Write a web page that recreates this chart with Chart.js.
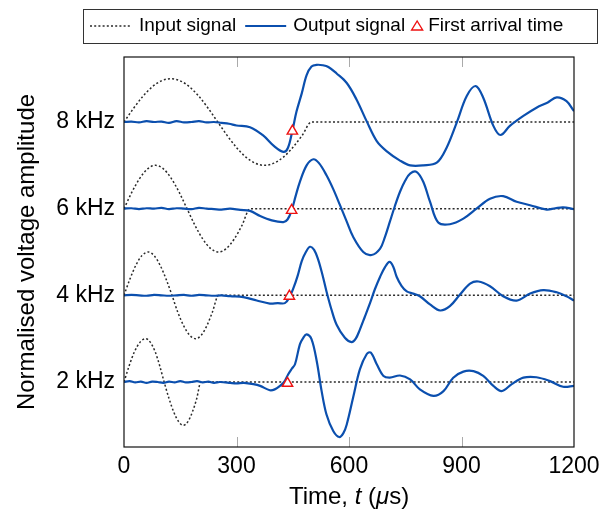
<!DOCTYPE html>
<html>
<head>
<meta charset="utf-8">
<script src="https://cdn.jsdelivr.net/npm/chart.js@4.4.1/dist/chart.umd.min.js"></script>
<style>
  html, body { margin: 0; padding: 0; background: #fff; }
  canvas { display: block; }
</style>
</head>
<body>
<canvas id="chart" width="609" height="518"></canvas>
<script>
// channel offsets on the y axis and their labels
const channels = [8, 6, 4, 2];
const channelLabels = ['8 kHz', '6 kHz', '4 kHz', '2 kHz'];
const xTicks = [0, 300, 600, 900, 1200];

// input bursts (µs, normalised amplitude)
const inTime8 = [0, 25, 50, 75, 100, 125, 150, 175, 200, 225, 250, 275, 300, 325, 350, 375, 400, 425, 450, 475, 500, 1200];
const inAmp8 = [0, 0.31, 0.59, 0.81, 0.95, 1.0, 0.95, 0.81, 0.59, 0.31, 0, -0.31, -0.59, -0.81, -0.95, -1.0, -0.95, -0.81, -0.59, -0.31, 0, 0];
const inTime6 = [0, 21, 42, 63, 84, 105, 126, 147, 168, 189, 210, 231, 252, 273, 294, 315, 336, 1200];
const inAmp6 = [0, 0.38, 0.7, 0.92, 1.0, 0.92, 0.7, 0.38, 0, -0.38, -0.7, -0.92, -1.0, -0.92, -0.7, -0.38, 0, 0];
const inTime4 = [0, 16, 32, 48, 65, 80, 96, 112, 128, 143, 159, 175, 191, 206, 221, 236, 252, 1200];
const inAmp4 = [0, 0.38, 0.7, 0.92, 1.0, 0.92, 0.7, 0.38, 0, -0.38, -0.7, -0.92, -1.0, -0.92, -0.7, -0.38, 0, 0];
const inTime2 = [0, 14, 28, 43, 58, 70, 83, 95, 107, 120, 133, 146, 158, 170, 182, 194, 205, 1200];
const inAmp2 = [0, 0.38, 0.7, 0.92, 1.0, 0.92, 0.7, 0.38, 0, -0.38, -0.7, -0.92, -1.0, -0.92, -0.7, -0.38, 0, 0];

// measured output signals
const outTime8 = [0,20,40,60,80,100,120,140,160,180,200,220,240,260,280,300,336,371,398,425,437,449,460,474,487,500,514,530,545,567,594,620,647,674,700,736,763,798,834,860,887,914,938,958,985,1004,1029,1065,1100,1130,1154,1180,1200];
const outAmp8 = [0,0.01,-0.01,0.02,0,0.01,-0.02,0.02,-0.01,0,0.02,-0.01,0,-0.02,-0.04,-0.08,-0.12,-0.31,-0.54,-0.69,-0.6,-0.2,0.24,0.66,1.08,1.28,1.32,1.31,1.27,1.12,0.9,0.52,0.02,-0.44,-0.67,-0.89,-1.0,-1.0,-0.94,-0.6,-0.02,0.6,0.83,0.56,-0.09,-0.3,-0.09,0.14,0.33,0.45,0.57,0.48,0.25];
const outTime6 = [0,20,40,60,80,100,120,140,160,180,200,220,240,260,283,310,336,363,394,425,436,447,458,469,487,505,520,540,558,576,594,611,638,660,683,696,709,722,736,750,763,780,798,816,838,869,905,940,976,1011,1047,1083,1127,1150,1171,1200];
const outAmp6 = [0,0.01,-0.01,0.01,0,0.02,-0.01,0.01,0,-0.01,0.02,0,-0.01,-0.02,0,-0.03,-0.05,-0.17,-0.27,-0.31,-0.25,-0.04,0.3,0.62,1.0,1.14,1.05,0.77,0.45,0.08,-0.3,-0.65,-1.0,-1.07,-0.92,-0.65,-0.3,0.05,0.39,0.65,0.81,0.85,0.62,0.16,-0.32,-0.36,-0.23,0,0.23,0.29,0.16,0.08,-0.02,0.01,0.03,-0.01];
const outTime4 = [0,20,40,60,80,100,120,140,160,180,200,220,240,260,283,318,354,389,410,429,441,452,463,474,485,496,507,518,529,540,553,567,589,607,618,629,642,656,669,683,696,708,718,727,740,754,771,789,816,843,869,896,923,945,976,1011,1047,1083,1118,1154,1180,1200];
const outAmp4 = [0,0.01,0,-0.01,0.01,0,-0.01,0,0.01,-0.01,0.01,0,-0.01,0,-0.02,-0.04,-0.12,-0.19,-0.18,-0.18,-0.05,0.17,0.45,0.79,1.0,1.12,1.05,0.82,0.48,0.09,-0.32,-0.68,-0.98,-1.08,-1.0,-0.79,-0.5,-0.18,0.14,0.43,0.65,0.77,0.66,0.43,0.22,0.09,0.04,-0.02,-0.21,-0.35,-0.25,0.02,0.27,0.32,0.21,-0.02,-0.12,0.04,0.12,0.07,-0.02,-0.12];
const outTime2 = [0,15,30,45,60,75,90,105,120,135,150,165,180,195,210,225,240,255,270,283,300,320,345,363,389,402,416,427,438,447,456,469,478,487,500,514,527,540,558,574,585,594,611,629,647,658,674,692,709,736,763,789,825,852,878,905,932,958,985,1007,1034,1065,1100,1136,1171,1200];
const outAmp2 = [0,0.02,-0.01,0.01,-0.02,0.01,0,-0.02,0.01,-0.01,0.02,-0.01,0,0.02,-0.01,0.01,-0.02,0,-0.01,-0.02,-0.03,-0.02,-0.05,-0.09,-0.19,-0.17,-0.09,0,0.18,0.3,0.41,0.87,1.02,1.1,0.99,0.48,-0.21,-0.75,-1.13,-1.27,-1.18,-0.98,-0.36,0.29,0.64,0.68,0.41,0.14,0.1,0.15,0.06,-0.17,-0.32,-0.21,0.1,0.24,0.25,0.14,-0.09,-0.21,-0.05,0.1,0.11,0.02,-0.11,-0.09];

// first arrival picks, order 8, 6, 4, 2 kHz
const arrivalTime = [449, 447, 441, 436];
const arrivalAmp = [-0.21, -0.04, -0.02, -0.03];

const FONT = "'Liberation Sans', Arial, sans-serif";
const BLUE = '#0b4fae';
const RED = '#ee1111';
const DOT = '#2a2a2a';

function toPoints(times, amps, offset) {
  return times.map((t, i) => ({ x: t, y: amps[i] + offset }));
}

const inputs = [[inTime8, inAmp8], [inTime6, inAmp6], [inTime4, inAmp4], [inTime2, inAmp2]];
const outputs = [[outTime8, outAmp8], [outTime6, outAmp6], [outTime4, outAmp4], [outTime2, outAmp2]];

const datasets = [];
datasets.push({
  label: 'First arrival time',
  data: arrivalTime.map((t, i) => ({ x: t, y: arrivalAmp[i] + channels[i] })),
  showLine: false,
  pointStyle: 'triangle',
  pointRadius: 6,
  pointBorderWidth: 1.4,
  pointBorderColor: RED,
  pointBackgroundColor: '#fff',
  order: 0
});
outputs.forEach(([t, a], i) => {
  datasets.push({
    label: 'Output signal',
    data: toPoints(t, a, channels[i]),
    borderColor: BLUE,
    borderWidth: 2.2,
    pointRadius: 0,
    tension: 0.35,
    order: 1
  });
});
inputs.forEach(([t, a], i) => {
  datasets.push({
    label: 'Input signal',
    data: toPoints(t, a, channels[i]),
    borderColor: DOT,
    borderWidth: 1.5,
    borderDash: [2, 2.2],
    pointRadius: 0,
    cubicInterpolationMode: 'monotone',
    order: 2
  });
});

const framePlugin = {
  id: 'frame',
  afterDraw(chart) {
    const { ctx, chartArea: a, scales: { x } } = chart;
    ctx.save();
    // inward ticks, top and bottom
    ctx.strokeStyle = '#aaa';
    ctx.lineWidth = 1;
    xTicks.slice(1, -1).forEach(v => {
      const px = Math.round(x.getPixelForValue(v)) + 0.5;
      ctx.beginPath();
      ctx.moveTo(px, a.bottom); ctx.lineTo(px, a.bottom - 10);
      ctx.moveTo(px, a.top); ctx.lineTo(px, a.top + 10);
      ctx.stroke();
    });
    ctx.strokeStyle = '#111';
    ctx.lineWidth = 1.2;
    ctx.strokeRect(a.left, a.top, a.right - a.left, a.bottom - a.top);

    // x title with italic t and mu
    const parts = [['Time, ', ''], ['t', 'italic '], [' (', ''], ['\u03bc', 'italic '], ['s)', '']];
    ctx.fillStyle = '#000';
    ctx.textBaseline = 'middle';
    ctx.textAlign = 'left';
    let w = 0;
    parts.forEach(p => { ctx.font = p[1] + '24px ' + FONT; w += ctx.measureText(p[0]).width; });
    let cx = (a.left + a.right) / 2 - w / 2;
    parts.forEach(p => {
      ctx.font = p[1] + '24px ' + FONT;
      ctx.fillText(p[0], cx, 497);
      cx += ctx.measureText(p[0]).width;
    });

    // legend
    const ly = 26;
    ctx.font = '19px ' + FONT;
    let lx = 90;
    ctx.lineWidth = 1.5;
    ctx.strokeStyle = DOT;
    ctx.setLineDash([2, 2.2]);
    ctx.beginPath(); ctx.moveTo(lx, ly); ctx.lineTo(lx + 42, ly); ctx.stroke();
    ctx.setLineDash([]);
    lx += 49;
    ctx.fillText('Input signal', lx, ly);
    lx += ctx.measureText('Input signal').width + 9;
    ctx.strokeStyle = BLUE;
    ctx.lineWidth = 2.2;
    ctx.beginPath(); ctx.moveTo(lx, ly); ctx.lineTo(lx + 41, ly); ctx.stroke();
    lx += 48;
    ctx.fillText('Output signal', lx, ly);
    lx += ctx.measureText('Output signal').width + 12;
    ctx.strokeStyle = RED;
    ctx.lineWidth = 1.4;
    ctx.beginPath();
    ctx.moveTo(lx, ly - 5); ctx.lineTo(lx + 5.5, ly + 4); ctx.lineTo(lx - 5.5, ly + 4); ctx.closePath();
    ctx.stroke();
    lx += 11;
    ctx.fillText('First arrival time', lx, ly);
    lx += ctx.measureText('First arrival time').width + 12;
    ctx.strokeStyle = '#333';
    ctx.lineWidth = 1;
    ctx.strokeRect(83.5, 9.5, Math.max(514, lx - 83), 34);
    ctx.restore();
  }
};

new Chart(document.getElementById('chart'), {
  type: 'line',
  data: { datasets },
  plugins: [framePlugin],
  options: {
    responsive: false,
    animation: false,
    devicePixelRatio: 1,
    layout: { padding: { top: 57, right: 35, left: 0, bottom: 0 } },
    plugins: { legend: { display: false }, tooltip: { enabled: false } },
    scales: {
      x: {
        type: 'linear',
        min: 0,
        max: 1200,
        afterBuildTicks: s => { s.ticks = xTicks.map(v => ({ value: v })); },
        afterFit: s => { s.height = 71; },
        grid: { display: false, drawTicks: false },
        border: { display: false },
        ticks: {
          color: '#000',
          padding: 6,
          maxRotation: 0,
          autoSkip: false,
          font: { family: FONT, size: 23 },
          callback: v => String(v)
        }
      },
      y: {
        type: 'linear',
        min: 0.5,
        max: 9.5,
        afterBuildTicks: s => { s.ticks = channels.map(v => ({ value: v })); },
        afterFit: s => { s.width = 124; },
        grid: { display: false, drawTicks: false },
        border: { display: false },
        ticks: {
          color: '#000',
          padding: 9,
          autoSkip: false,
          font: { family: FONT, size: 23 },
          callback: v => channelLabels[channels.indexOf(v)]
        },
        title: {
          display: true,
          text: 'Normalised voltage amplitude',
          color: '#000',
          padding: { top: 13, bottom: 0 },
          font: { family: FONT, size: 24 }
        }
      }
    }
  }
});
</script>
</body>
</html>
